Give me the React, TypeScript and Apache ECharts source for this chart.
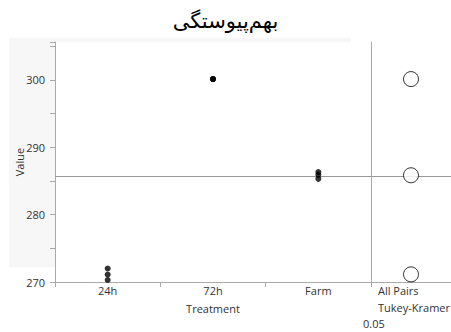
import React, { useEffect, useRef } from "react";
import * as echarts from "echarts";

const categories = ["24h", "72h", "Farm"];
const values24h = [272.0, 271.1, 270.3];
const values72h = [300.1, 300.1, 300.1];
const valuesFarm = [286.3, 285.9, 285.3];
const groups = [values24h, values72h, valuesFarm];
const yMin = 270;
const yMax = 305.6;

const mean = (a: number[]) => a.reduce((s, v) => s + v, 0) / a.length;
const allValues = groups.flat();
const grandMean = mean(allValues);

export default function App() {
  const ref = useRef<HTMLDivElement>(null);
  useEffect(() => {
    if (!ref.current) return;
    const chart = echarts.init(ref.current, null, { renderer: "svg" });
    const axisColor = "#aaaaaa";
    const font = "Open Sans";
    const points: [number, number][] = [];
    groups.forEach((g, i) => g.forEach((v) => points.push([i, v])));
    const circles = groups.map((g) => [0.5, mean(g)]);

    chart.setOption({
      animation: false,
      backgroundColor: "#ffffff",
      title: {
        text: "بهم‌پیوستگی",
        left: "center",
        top: 5,
        textStyle: { fontFamily: "DejaVu Sans", fontSize: 21, fontWeight: "normal", color: "#000" },
      },
      graphic: [
        { type: "rect", z: -10, shape: { x: 9, y: 38, width: 342, height: 229 }, style: { fill: "#f7f7f7" } },
        { type: "text", left: 378, top: 285, style: { text: "All Pairs", fontFamily: font, fontSize: 11, fill: "#333" } },
        { type: "text", left: 378, top: 302, style: { text: "Tukey-Kramer", fontFamily: font, fontSize: 11, fill: "#333" } },
        { type: "text", left: 363, top: 318, style: { text: "0.05", fontFamily: font, fontSize: 11, fill: "#333" } },
      ],
      grid: [
        { left: 55, right: 80, top: 42, bottom: 50, show: true, backgroundColor: "#ffffff", borderWidth: 0 },
        { left: 371, right: 0, top: 42, bottom: 50, show: true, backgroundColor: "#ffffff", borderWidth: 0 },
      ],
      xAxis: [
        {
          gridIndex: 0,
          type: "category",
          data: categories,
          boundaryGap: true,
          name: "Treatment",
          nameLocation: "middle",
          nameGap: 21,
          nameMoveOverlap: false,
          nameTextStyle: { fontFamily: font, fontSize: 11, color: "#333" },
          axisLine: { lineStyle: { color: axisColor } },
          axisTick: { show: true, length: 5, lineStyle: { color: axisColor } },
          axisLabel: { fontFamily: font, fontSize: 11, color: "#333", margin: 3 },
          splitLine: { show: false },
        },
        {
          gridIndex: 1,
          type: "value",
          min: 0,
          max: 1,
          axisLine: { lineStyle: { color: axisColor } },
          axisTick: { show: false },
          axisLabel: { show: false },
          splitLine: { show: false },
        },
      ],
      yAxis: [
        {
          gridIndex: 0,
          type: "value",
          min: yMin,
          max: yMax,
          interval: 10,
          name: "Value",
          nameLocation: "middle",
          nameGap: 30,
          nameMoveOverlap: false,
          nameTextStyle: { fontFamily: font, fontSize: 11, color: "#333" },
          axisLine: { show: true, lineStyle: { color: axisColor } },
          axisTick: { show: true, length: 5, lineStyle: { color: axisColor } },
          minorTick: { show: true, splitNumber: 2, length: 5, lineStyle: { color: axisColor } },
          axisLabel: { fontFamily: font, fontSize: 11, color: "#333", margin: 10, showMaxLabel: false },
          splitLine: { show: false },
        },
        {
          gridIndex: 1,
          type: "value",
          min: yMin,
          max: yMax,
          axisLine: { show: true, lineStyle: { color: axisColor } },
          axisTick: { show: false },
          axisLabel: { show: false },
          splitLine: { show: false },
        },
      ],
      series: [
        {
          type: "scatter",
          xAxisIndex: 0,
          yAxisIndex: 0,
          data: points,
          symbol: "circle",
          symbolSize: 6,
          itemStyle: { color: "#000" },
          markLine: {
            silent: true,
            symbol: "none",
            label: { show: false },
            lineStyle: { color: "#999", type: "solid", width: 1 },
            data: [{ yAxis: grandMean }],
          },
          z: 5,
        },
        {
          type: "scatter",
          xAxisIndex: 1,
          yAxisIndex: 1,
          data: circles,
          symbol: "circle",
          symbolSize: 15,
          itemStyle: { color: "#ffffff", borderColor: "#000", borderWidth: 1 },
          markLine: {
            silent: true,
            symbol: "none",
            label: { show: false },
            lineStyle: { color: "#999", type: "solid", width: 1 },
            data: [{ yAxis: grandMean }],
            z: 1,
          },
          z: 5,
        },
      ],
    });
    return () => chart.dispose();
  }, []);
  return <div ref={ref} style={{ width: 451, height: 332, position: "absolute", left: 0, top: 0 }} />;
}
